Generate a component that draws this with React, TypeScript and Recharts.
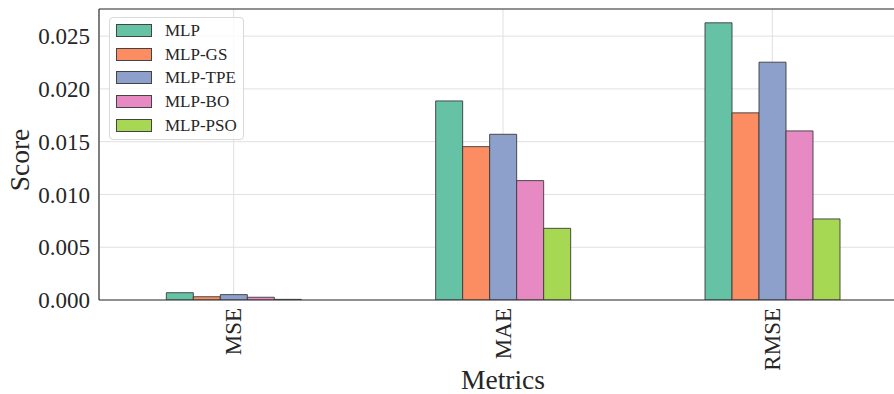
import { BarChart, Bar, XAxis, YAxis, CartesianGrid, Legend, ReferenceLine } from 'recharts';

const metrics = ['MSE', 'MAE', 'RMSE'];
const mlp = [0.00069, 0.01886, 0.02626];
const mlpGs = [0.00031, 0.01453, 0.01773];
const mlpTpe = [0.00051, 0.0157, 0.02253];
const mlpBo = [0.00026, 0.01131, 0.01602];
const mlpPso = [0.00006, 0.00679, 0.00768];

const seriesNames = ['MLP', 'MLP-GS', 'MLP-TPE', 'MLP-BO', 'MLP-PSO'];
const seriesValues = [mlp, mlpGs, mlpTpe, mlpBo, mlpPso];
const seriesColors = ['#66c2a5', '#fc8d62', '#8da0cb', '#e78ac3', '#a6d854'];

const yTicks = [0, 0.005, 0.01, 0.015, 0.02, 0.025];
const yMax = 0.02757;

const data = metrics.map((m, i) => {
  const row: Record<string, string | number> = { metric: m };
  seriesNames.forEach((s, k) => {
    row[s] = seriesValues[k][i];
  });
  return row;
});

const FONT = "'Liberation Serif', 'Times New Roman', Times, serif";
const INK = '#262626';
const SPINE = '#333333';
const GRID = '#e0e0e0';

// rotated category labels, reading bottom to top, ending just under the axis
function MetricTick({ x, y, payload }: any) {
  return (
    <g transform={`translate(${x},${y})`}>
      <text
        transform="rotate(-90)"
        textAnchor="end"
        dominantBaseline="central"
        style={{ fontFamily: FONT }}
        fontSize={23}
        fill={INK}
      >
        {payload.value}
      </text>
    </g>
  );
}

function LegendBox() {
  return (
    <div
      style={{
        width: 133,
        height: 120,
        border: '1px solid #d9d9d9',
        borderRadius: 4,
        background: 'rgba(255,255,255,0.8)',
        boxSizing: 'content-box',
        paddingTop: 1,
      }}
    >
      {seriesNames.map((s, k) => (
        <div key={s} style={{ display: 'flex', alignItems: 'center', height: 23.6 }}>
          <div
            style={{
              width: 34,
              height: 11,
              marginLeft: 6,
              background: seriesColors[k],
              border: '1px solid #444',
            }}
          />
          <span
            style={{
              marginLeft: 13,
              fontFamily: FONT,
              fontSize: 17,
              color: INK,
              lineHeight: 1,
            }}
          >
            {s}
          </span>
        </div>
      ))}
    </div>
  );
}

export default function App() {
  return (
    <div
      style={{
        position: 'fixed',
        left: 0,
        top: 0,
        width: 894,
        height: 394,
        overflow: 'hidden',
        background: '#fff',
        fontFamily: FONT,
      }}
    >
      <BarChart
        width={912}
        height={394}
        data={data}
        margin={{ top: 9, right: 5, bottom: 0, left: 0 }}
        barCategoryGap="25%"
        barGap={0}
        style={{ fontFamily: FONT }}
      >
        <CartesianGrid stroke={GRID} strokeWidth={1} />
        <XAxis
          dataKey="metric"
          height={94}
          tickLine={false}
          tickSize={6}
          tickMargin={2}
          axisLine={{ stroke: SPINE, strokeWidth: 1.2 }}
          tick={<MetricTick />}
          interval={0}
          label={{
            content: () => (
              <text x={503} y={389} textAnchor="middle" style={{ fontFamily: FONT }} fontSize={27.5} fill={INK}>
                Metrics
              </text>
            ),
          }}
        />
        <YAxis
          width={99}
          domain={[0, yMax]}
          ticks={yTicks}
          tickFormatter={(v: number) => v.toFixed(3)}
          tickLine={false}
          tickSize={6}
          tickMargin={3}
          axisLine={{ stroke: SPINE, strokeWidth: 1.2 }}
          tick={{ fontSize: 23, fill: INK, style: { fontFamily: FONT } }}
          allowDataOverflow
          label={{
            content: () => (
              <text
                x={29}
                y={160}
                transform="rotate(-90 29 160)"
                textAnchor="middle"
                style={{ fontFamily: FONT }}
                fontSize={27.5}
                fill={INK}
              >
                Score
              </text>
            ),
          }}
        />
        <ReferenceLine y={yMax} stroke={SPINE} strokeWidth={1.2} ifOverflow="extendDomain" />
        <Legend
          layout="vertical"
          align="center"
          verticalAlign="middle"
          wrapperStyle={{ position: 'absolute', left: 109, top: 17, width: 'auto', height: 'auto' }}
          content={() => <LegendBox />}
        />
        {seriesNames.map((s, k) => (
          <Bar
            key={s}
            dataKey={s}
            fill={seriesColors[k]}
            stroke="#3a3a3a"
            strokeWidth={0.9}
            isAnimationActive={false}
          />
        ))}
      </BarChart>
    </div>
  );
}
